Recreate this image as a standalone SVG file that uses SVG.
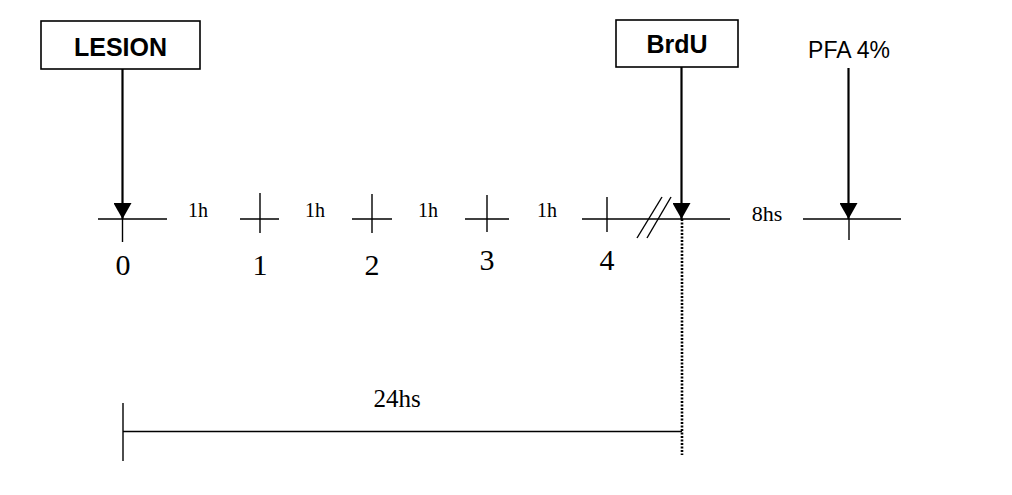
<svg xmlns="http://www.w3.org/2000/svg" width="1012" height="495" viewBox="0 0 1012 495">
<style>
.box{fill:#fff;stroke:#000;stroke-width:1.6}
.lbl{font-family:"Liberation Sans",Arial,sans-serif;font-weight:bold;font-size:25px;text-anchor:middle;fill:#000}
.pfa{font-family:"Liberation Sans",Arial,sans-serif;font-size:23px;text-anchor:middle;fill:#000}
.ser{font-family:"Liberation Serif","Times New Roman",serif;text-anchor:middle;fill:#000}
.ax{stroke:#000;stroke-width:1.4;fill:none}
.arr{stroke:#000;stroke-width:2.2;fill:none}
</style>
<defs>
<marker id="ah" markerUnits="userSpaceOnUse" markerWidth="17" markerHeight="18" refX="16" refY="9" orient="auto" viewBox="0 0 17 18">
<path d="M0,0 L16,9 L0,18 Z" fill="#000"/>
</marker>
</defs>
<rect width="1012" height="495" fill="#fff"/>
<g id="node-lesion">
<rect class="box" x="41" y="21" width="159" height="48"/>
<text class="lbl" x="120.5" y="56" font-size="26">LESION</text>
</g>
<g id="node-brdu">
<rect class="box" x="616" y="20" width="122" height="47"/>
<text class="lbl" x="677" y="53">BrdU</text>
</g>
<g id="node-pfa">
<text class="pfa" x="849" y="58">PFA 4%</text>
</g>
<g id="timeline">
<line class="ax" x1="98" y1="219" x2="167" y2="219"/>
<line class="ax" x1="122.5" y1="219" x2="122.5" y2="242"/>
<line class="ax" x1="240" y1="219" x2="279" y2="219"/>
<line class="ax" x1="260" y1="193" x2="260" y2="233"/>
<line class="ax" x1="352" y1="219" x2="392" y2="219"/>
<line class="ax" x1="372" y1="194" x2="372" y2="233"/>
<line class="ax" x1="465" y1="219" x2="509" y2="219"/>
<line class="ax" x1="487" y1="195" x2="487" y2="232"/>
<line class="ax" x1="582" y1="219" x2="730" y2="219"/>
<line class="ax" x1="607" y1="197" x2="607" y2="232"/>
<line class="ax" x1="637" y1="238" x2="662" y2="197"/>
<line class="ax" x1="647" y1="238" x2="671" y2="197"/>
<line class="ax" x1="803" y1="219" x2="901" y2="219"/>
<line class="ax" x1="849" y1="219" x2="849" y2="240"/>
<text class="ser" x="198" y="217" font-size="20">1h</text>
<text class="ser" x="315" y="217" font-size="20">1h</text>
<text class="ser" x="428" y="217" font-size="20">1h</text>
<text class="ser" x="547" y="217" font-size="20">1h</text>
<text class="ser" x="767" y="221" font-size="22">8hs</text>
<text class="ser" x="123" y="275" font-size="30">0</text>
<text class="ser" x="260" y="275" font-size="30">1</text>
<text class="ser" x="372" y="275" font-size="30">2</text>
<text class="ser" x="487" y="270" font-size="30">3</text>
<text class="ser" x="607" y="270" font-size="30">4</text>
</g>
<g id="connectors">
<line class="arr" x1="122.5" y1="69" x2="122.5" y2="219" marker-end="url(#ah)"/>
<line class="arr" x1="681.5" y1="67" x2="681.5" y2="219" marker-end="url(#ah)"/>
<line class="arr" x1="848.5" y1="68" x2="848.5" y2="219" marker-end="url(#ah)"/>
<line x1="682" y1="219" x2="682" y2="455" stroke="#000" stroke-width="2.6" stroke-dasharray="2 1.5"/>
</g>
<g id="span-24hs">
<line class="ax" x1="123" y1="403" x2="123" y2="461"/>
<line class="ax" x1="123" y1="431.5" x2="682" y2="431.5"/>
<text class="ser" x="397" y="407" font-size="25">24hs</text>
</g>
</svg>
